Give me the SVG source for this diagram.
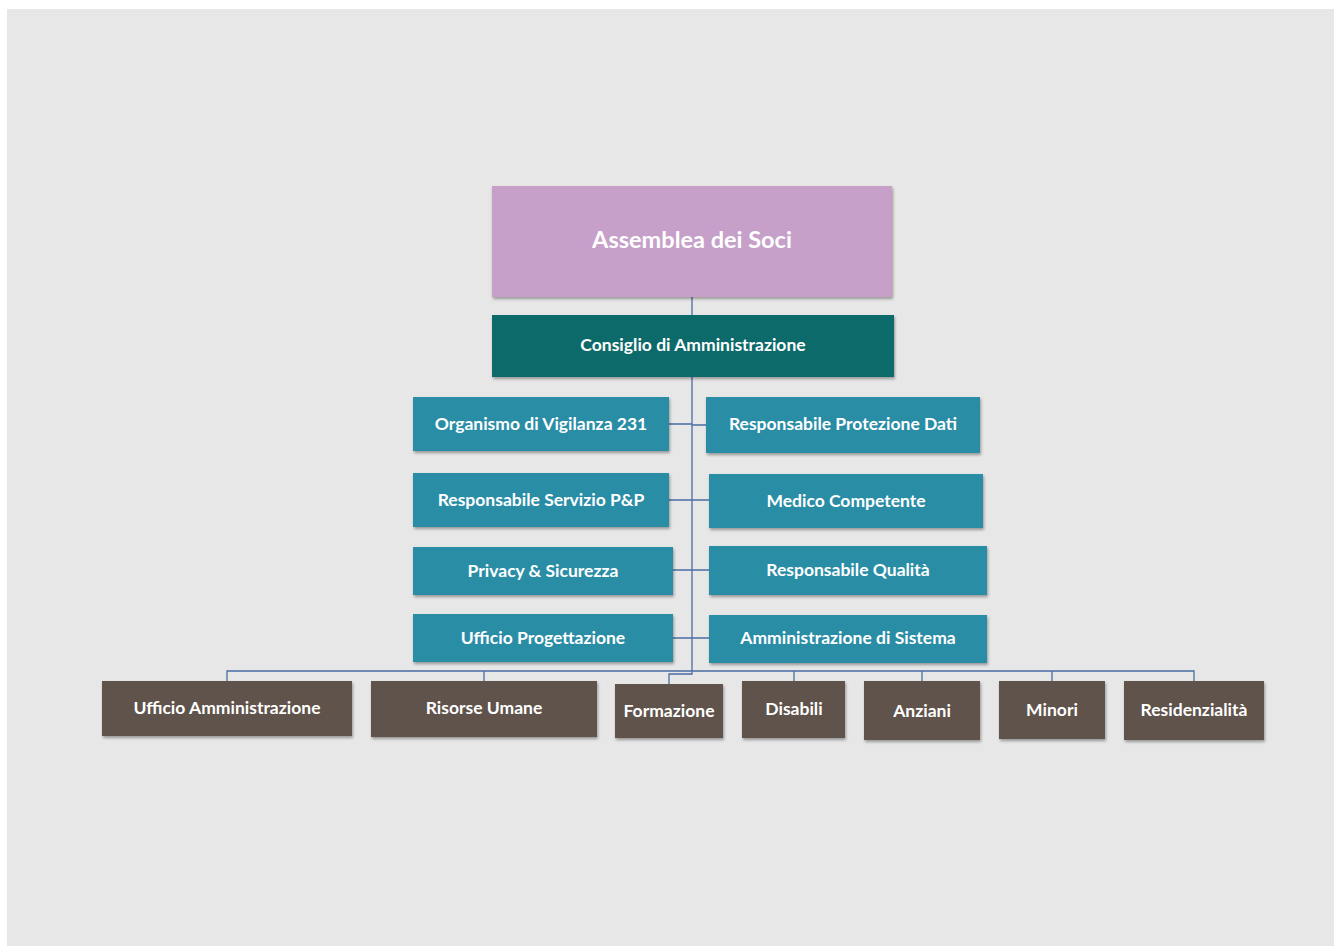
<svg xmlns="http://www.w3.org/2000/svg" width="1334" height="946" viewBox="0 0 1334 946">
<defs>
<filter id="sh" x="-10%" y="-10%" width="130%" height="140%">
<feDropShadow dx="1" dy="2" stdDeviation="1.5" flood-color="#000" flood-opacity="0.35"/>
</filter>
<style>
.t{font-family:Lato,"Open Sans","Liberation Sans",sans-serif;font-weight:bold;fill:#fff;text-anchor:middle;font-size:17.5px}
.teal{fill:#2a8da6}
.brown{fill:#5f524b}
.ln{stroke:#4a6ea3;stroke-width:1.3;fill:none}
</style>
</defs>
<rect x="0" y="0" width="1334" height="946" fill="#ffffff"/>
<rect x="7" y="9" width="1327" height="937" fill="#e7e7e7"/>
<g id="connectors">
<path class="ln" d="M692 297 V674 H669 V684"/>
<path class="ln" d="M227 681 V671 H1194 V681"/>
<path class="ln" d="M484 671 V681 M794 671 V681 M922 671 V681 M1052 671 V681"/>
<path class="ln" d="M669 424 H692 M692 425 H706"/>
<path class="ln" d="M669 500 H709"/>
<path class="ln" d="M673 570 H709"/>
<path class="ln" d="M673 638 H709"/>
</g>
<g id="assemblea"><rect x="492" y="186" width="400" height="111" fill="#c6a0c9" filter="url(#sh)"/><text class="t" x="692" y="248" style="font-size:23.5px">Assemblea dei Soci</text></g>
<g id="consiglio"><rect x="492" y="315" width="402" height="62" fill="#0f6b6a" filter="url(#sh)"/><text class="t" x="693" y="351">Consiglio di Amministrazione</text></g>
<g id="organismo"><rect class="teal" x="413" y="397" width="256" height="54" filter="url(#sh)"/><text class="t" x="541" y="430">Organismo di Vigilanza 231</text></g>
<g id="rpd"><rect class="teal" x="706" y="397" width="274" height="56" filter="url(#sh)"/><text class="t" x="843" y="430">Responsabile Protezione Dati</text></g>
<g id="rspp"><rect class="teal" x="413" y="473" width="256" height="54" filter="url(#sh)"/><text class="t" x="541" y="506">Responsabile Servizio P&amp;P</text></g>
<g id="medico"><rect class="teal" x="709" y="474" width="274" height="54" filter="url(#sh)"/><text class="t" x="846" y="507">Medico Competente</text></g>
<g id="privacy"><rect class="teal" x="413" y="547" width="260" height="48" filter="url(#sh)"/><text class="t" x="543" y="577">Privacy &amp; Sicurezza</text></g>
<g id="qualita"><rect class="teal" x="709" y="546" width="278" height="49" filter="url(#sh)"/><text class="t" x="848" y="576">Responsabile Qualità</text></g>
<g id="progettazione"><rect class="teal" x="413" y="614" width="260" height="48" filter="url(#sh)"/><text class="t" x="543" y="644">Ufficio Progettazione</text></g>
<g id="sistema"><rect class="teal" x="709" y="615" width="278" height="48" filter="url(#sh)"/><text class="t" x="848" y="644">Amministrazione di Sistema</text></g>
<g id="uff-amm"><rect class="brown" x="102" y="681" width="250" height="55" filter="url(#sh)"/><text class="t" x="227" y="714">Ufficio Amministrazione</text></g>
<g id="risorse"><rect class="brown" x="371" y="681" width="226" height="56" filter="url(#sh)"/><text class="t" x="484" y="714">Risorse Umane</text></g>
<g id="formazione"><rect class="brown" x="615" y="684" width="108" height="54" filter="url(#sh)"/><text class="t" x="669" y="717">Formazione</text></g>
<g id="disabili"><rect class="brown" x="742" y="681" width="103" height="57" filter="url(#sh)"/><text class="t" x="794" y="715">Disabili</text></g>
<g id="anziani"><rect class="brown" x="864" y="681" width="116" height="59" filter="url(#sh)"/><text class="t" x="922" y="717">Anziani</text></g>
<g id="minori"><rect class="brown" x="999" y="681" width="106" height="58" filter="url(#sh)"/><text class="t" x="1052" y="716">Minori</text></g>
<g id="residenzialita"><rect class="brown" x="1124" y="681" width="140" height="59" filter="url(#sh)"/><text class="t" x="1194" y="716">Residenzialità</text></g>
</svg>
